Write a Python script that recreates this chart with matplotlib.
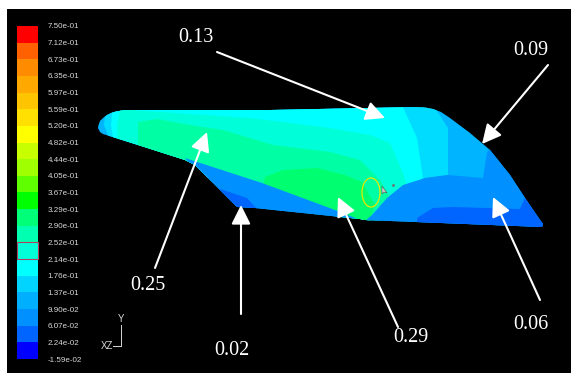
import matplotlib

matplotlib.use("Agg")

import matplotlib.pyplot as plt
from matplotlib.patches import Ellipse, Polygon


# colour bar values, bottom to top
bar_values = [
    -0.0159, 0.0224, 0.0607, 0.0990, 0.137, 0.176, 0.214, 0.252, 0.290, 0.329, 0.367,
    0.405, 0.444, 0.482, 0.520, 0.559, 0.597, 0.635, 0.673, 0.712, 0.750,
]
bar_colors = [
    "#0000ff", "#0064ff", "#0090ff", "#00b0ff", "#00d4ff", "#00ffff", "#00ffd8",
    "#00ffb0", "#00ff78", "#00ff00", "#60ff00", "#a0ff00", "#c8ff00", "#ffff00",
    "#ffe000", "#ffc400", "#ffa800", "#ff8c00", "#ff6000", "#ff0000",
]

# wing outline and contour zones in pixels
outline = [
    (98, 128), (98.5, 125), (100, 121), (103, 118), (107, 115), (111, 113), (116, 111.5),
    (122, 110.5), (128, 110), (270, 110), (415, 107), (425, 107.5), (433, 109), (441, 112),
    (450, 118), (470, 133), (490, 150), (510, 175), (525, 198), (540, 220), (543, 224),
    (542, 227), (365, 220), (360, 219), (255, 208), (237, 207), (195, 165), (185, 160),
    (135, 144), (103, 134), (100, 132),
]
zones = [
    ("#00dcff", [(106, 105), (430, 100), (448, 128), (448, 175), (425, 178), (365, 225),
                 (100, 150), (108, 135), (104, 125)]),
    ("#00ffff", [(113, 105), (402, 105), (417, 138), (423, 178), (365, 225), (115, 150),
                 (111, 125)]),
    ("#00ffd8", [(120, 110), (130, 110), (250, 118), (330, 128), (370, 135), (390, 143),
                 (403, 173), (407, 187), (365, 225), (118, 150), (117, 125)]),
    ("#00ffa4", [(138, 122), (157, 119), (190, 125), (223, 130), (273, 145), (330, 152),
                 (360, 160), (380, 180), (395, 205), (375, 225), (138, 150)]),
    ("#00ff70", [(265, 177), (283, 170), (317, 168), (345, 175), (362, 182), (375, 205),
                 (368, 225), (262, 190)]),
    ("#0090ff", [(185, 158), (262, 183), (335, 210), (358, 219), (365, 221), (372, 215),
                 (387, 198), (403, 185), (425, 178), (448, 175), (483, 178), (487, 153),
                 (490, 148), (550, 215), (550, 235), (230, 215)]),
    ("#0064ff", [(217, 188), (247, 198), (257, 209), (235, 209)]),
    ("#0064ff", [(417, 218), (433, 208), (453, 207), (520, 209), (525, 198), (550, 215),
                 (550, 235), (417, 225)]),
]

# callouts: text, text position, arrow start, arrow tip
labels = ["0.13", "0.09", "0.25", "0.02", "0.29", "0.06"]
label_pos = [(196, 38), (531, 51), (148, 286), (232, 351), (411, 338), (531, 325)]
arrow_start = [(217, 52), (548, 65), (155, 268), (241, 314), (398, 327), (540, 300)]
arrow_tip = [(385, 118), (482, 144), (207, 132), (241, 205), (338, 197), (493, 197)]

W, H = 571, 373

fig = plt.figure(figsize=(W / 100, H / 100), dpi=100, facecolor="white")


def px_axes(x0, y0, x1, y1):
    # axes placed by picture pixels, y counted from the top
    return fig.add_axes([x0 / W, 1 - y1 / H, (x1 - x0) / W, (y1 - y0) / H])


ax = px_axes(7, 9, W, H)
ax.set_xlim(7, W)
ax.set_ylim(H, 9)
ax.set_facecolor("black")
ax.axis("off")
ax.add_patch(plt.Rectangle((7, 9), W - 7, H - 9, color="black", zorder=0))

wing = Polygon(outline, closed=True, facecolor="#00b4ff", edgecolor="none", zorder=1)
ax.add_patch(wing)
for color, pts in zones:
    zone = Polygon(pts, closed=True, facecolor=color, edgecolor="none", zorder=2)
    ax.add_patch(zone)
    zone.set_clip_path(wing)

# marker ring and mouse pointer left in the screenshot
ax.add_patch(Ellipse((371, 192.5), 18, 29, fill=False, edgecolor="#e8e800", lw=0.9, zorder=3))
ax.add_patch(Polygon([(382, 186), (382, 194), (384, 192), (387, 193)], closed=True,
                     facecolor="#d0d0d0", edgecolor="#505050", lw=0.4, zorder=3))
ax.plot([393], [185], marker="s", ms=0.9, color="#707070", zorder=3)

# axis triad
ax.plot([121, 121, 113], [325, 346, 346], color="#d8d8d8", lw=0.7, zorder=3)
ax.text(121, 319, "Y", color="#d8d8d8", fontsize=7, ha="center", va="center",
        family="Liberation Sans")
ax.text(107, 346, "XZ", color="#d8d8d8", fontsize=7, ha="center", va="center",
        family="Liberation Sans")

for text, pos, start, tip in zip(labels, label_pos, arrow_start, arrow_tip):
    ax.annotate("", xy=tip, xytext=start, zorder=4,
                arrowprops=dict(arrowstyle="-|>,head_length=0.9,head_width=0.45",
                                color="white", lw=1.5, mutation_scale=13,
                                shrinkA=0, shrinkB=0))
    ax.text(pos[0], pos[1], text, color="white", fontsize=14.5, ha="center", va="center",
            family="Liberation Serif", zorder=5)

# colour bar
bar_ax = px_axes(17, 26, 38, 359)
bar_ax.set_facecolor("black")
for i, color in enumerate(bar_colors):
    bar_ax.bar(0, 1, bottom=i, width=1, color=color)
bar_ax.bar(0, 1, bottom=6, width=1, fill=False, edgecolor="#b04060", lw=0.8, clip_on=False)
bar_ax.set_xlim(-0.5, 0.5)
bar_ax.set_ylim(0, len(bar_colors))
bar_ax.set_xticks([])
bar_ax.set_yticks(range(len(bar_values)))
bar_ax.set_yticklabels(["%.2e" % v for v in bar_values], fontsize=5.8, color="#d8d8d8",
                       family="Liberation Sans")
bar_ax.yaxis.tick_right()
bar_ax.tick_params(axis="y", length=0, pad=7)
for spine in bar_ax.spines.values():
    spine.set_visible(False)

fig.savefig("out.png", dpi=100, facecolor="white")
plt.close(fig)
